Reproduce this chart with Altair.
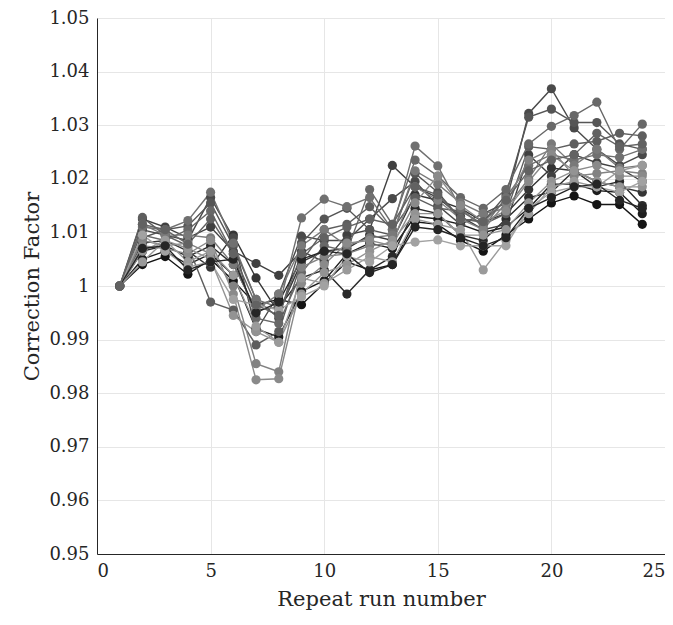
import altair as alt
import pandas as pd

runs = list(range(1, 25))

s01 = [1, 1.0040, 1.0055, 1.0022, 1.0050, 1.0010, 0.9965, 0.9975, 0.9965, 1.0005, 1.0045, 1.0030, 1.0040, 1.0120, 1.0115, 1.0085, 1.0065, 1.0095, 1.0125, 1.0155, 1.0168, 1.0152, 1.0152, 1.0115]
s02 = [1, 1.0050, 1.0065, 1.0040, 1.0060, 1.0020, 0.9920, 0.9905, 0.9990, 1.0010, 1.0060, 1.0080, 1.0070, 1.0130, 1.0125, 1.0115, 1.0100, 1.0110, 1.0145, 1.0190, 1.0190, 1.0178, 1.0175, 1.0135]
s03 = [1, 1.0065, 1.0075, 1.0055, 1.0075, 1.0040, 0.9955, 0.9960, 1.0015, 1.0030, 0.9985, 1.0030, 1.0055, 1.0145, 1.0135, 1.0095, 1.0085, 1.0125, 1.0165, 1.0175, 1.0215, 1.0185, 1.0195, 1.0150]
s04 = [1, 1.0080, 1.0085, 1.0065, 1.0035, 1.0095, 1.0015, 0.9950, 1.0045, 1.0065, 1.0070, 1.0095, 1.0085, 1.0170, 1.0160, 1.0145, 1.0120, 1.0135, 1.0180, 1.0220, 1.0215, 1.0195, 1.0185, 1.0175]
s05 = [1, 1.0125, 1.0110, 1.0090, 1.0110, 1.0065, 1.0042, 1.0020, 1.0065, 1.0045, 1.0095, 1.0105, 1.0225, 1.0185, 1.0165, 1.0130, 1.0105, 1.0115, 1.0245, 1.0205, 1.0245, 1.0230, 1.0220, 1.0195]
s06 = [1, 1.0105, 1.0095, 1.0085, 1.0165, 1.0090, 0.9915, 0.9985, 1.0093, 1.0085, 1.0085, 1.0125, 1.0163, 1.0195, 1.0150, 1.0115, 1.0135, 1.0155, 1.0322, 1.0368, 1.0295, 1.0255, 1.0225, 1.0245]
s07 = [1, 1.0090, 1.0105, 1.0112, 1.0155, 1.0075, 0.9975, 0.9940, 1.0080, 1.0125, 1.0145, 1.0105, 1.0095, 1.0210, 1.0175, 1.0125, 1.0120, 1.0170, 1.0315, 1.0330, 1.0305, 1.0305, 1.0265, 1.0255]
s08 = [1, 1.0128, 1.0095, 1.0075, 0.9970, 0.9955, 0.9890, 0.9915, 1.0045, 1.0105, 1.0115, 1.0148, 1.0105, 1.0165, 1.0145, 1.0140, 1.0115, 1.0135, 1.0260, 1.0255, 1.0265, 1.0270, 1.0285, 1.0280]
s09 = [1, 1.0095, 1.0085, 1.0105, 1.0140, 1.0060, 0.9940, 0.9930, 1.0025, 1.0075, 1.0065, 1.0180, 1.0115, 1.0235, 1.0205, 1.0165, 1.0145, 1.0180, 1.0265, 1.0298, 1.0318, 1.0343, 1.0255, 1.0302]
s10 = [1, 1.0110, 1.0105, 1.0122, 1.0175, 1.0080, 0.9975, 0.9960, 1.0127, 1.0162, 1.0148, 1.0165, 1.0105, 1.0261, 1.0224, 1.0145, 1.0110, 1.0165, 1.0225, 1.0245, 1.0235, 1.0245, 1.0240, 1.0255]
s11 = [1, 1.0115, 1.0095, 1.0095, 1.0090, 1.0040, 0.9955, 0.9985, 1.0075, 1.0105, 1.0075, 1.0090, 1.0095, 1.0215, 1.0190, 1.0155, 1.0135, 1.0145, 1.0200, 1.0265, 1.0225, 1.0255, 1.0220, 1.0225]
s12 = [1, 1.0085, 1.0075, 1.0080, 1.0060, 1.0000, 0.9855, 0.9840, 1.0035, 1.0055, 1.0060, 1.0075, 1.0080, 1.0185, 1.0160, 1.0125, 1.0105, 1.0155, 1.0235, 1.0255, 1.0205, 1.0210, 1.0215, 1.0210]
s13 = [1, 1.0075, 1.0070, 1.0060, 1.0085, 0.9985, 0.9825, 0.9827, 1.0005, 1.0040, 1.0080, 1.0085, 1.0075, 1.0155, 1.0205, 1.0150, 1.0120, 1.0140, 1.0195, 1.0245, 1.0215, 1.0225, 1.0205, 1.0205]
s14 = [1, 1.0065, 1.0085, 1.0070, 1.0050, 0.9945, 0.9915, 0.9895, 0.9985, 1.0025, 1.0040, 1.0065, 1.0085, 1.0135, 1.0135, 1.0095, 1.0095, 1.0105, 1.0155, 1.0195, 1.0215, 1.0195, 1.0185, 1.0185]
s15 = [1, 1.0045, 1.0085, 1.0045, 1.0065, 1.0020, 0.9925, 0.9895, 1.0015, 1.0005, 1.0030, 1.0055, 1.0045, 1.0125, 1.0115, 1.0105, 1.0030, 1.0085, 1.0135, 1.0185, 1.0195, 1.0185, 1.0215, 1.0225]
s16 = [1, 1.0095, 1.0065, 1.0035, 1.0045, 0.9975, 0.9965, 0.9955, 0.9980, 1.0000, 1.0055, 1.0045, 1.0075, 1.0082, 1.0086, 1.0075, 1.0075, 1.0075, 1.0145, 1.0175, 1.0185, 1.0185, 1.0175, 1.0195]
s17 = [1, 1.0070, 1.0075, 1.0030, 1.0045, 1.0050, 0.9950, 0.9970, 1.0050, 1.0065, 1.0060, 1.0025, 1.0040, 1.0110, 1.0105, 1.0090, 1.0075, 1.0090, 1.0145, 1.0165, 1.0185, 1.0190, 1.0160, 1.0145]
s18 = [1, 1.0115, 1.0105, 1.0078, 1.0125, 1.0060, 0.9965, 0.9945, 1.0060, 1.0090, 1.0110, 1.0125, 1.0115, 1.0185, 1.0170, 1.0125, 1.0120, 1.0160, 1.0215, 1.0235, 1.0245, 1.0285, 1.0260, 1.0265]

series = {
    "s01": s01, "s02": s02, "s03": s03, "s04": s04, "s05": s05, "s06": s06,
    "s07": s07, "s08": s08, "s09": s09, "s10": s10, "s11": s11, "s12": s12,
    "s13": s13, "s14": s14, "s15": s15, "s16": s16, "s17": s17, "s18": s18,
}
names = list(series.keys())
grays = ["#151515", "#1e1e1e", "#2a2a2a", "#353535", "#404040", "#4a4a4a",
         "#555555", "#5e5e5e", "#686868", "#707070", "#797979", "#828282",
         "#8a8a8a", "#939393", "#9a9a9a", "#a2a2a2", "#252525", "#626262"]

rows = []
for name, vals in series.items():
    for r, v in zip(runs, vals):
        rows.append({"run": r, "cf": v, "series": name})
df = pd.DataFrame(rows)

FONT = "DejaVu Serif"

chart = alt.Chart(df).mark_line(
    strokeWidth=1.4,
    point=alt.OverlayMarkDef(filled=True, size=85, opacity=1),
).encode(
    x=alt.X("run:Q", scale=alt.Scale(domain=[0, 25], nice=False),
            axis=alt.Axis(values=[0, 5, 10, 15, 20, 25], title="Repeat run number",
                          format="d", labelPadding=8, titlePadding=8)),
    y=alt.Y("cf:Q", scale=alt.Scale(domain=[0.95, 1.05], nice=False, zero=False),
            axis=alt.Axis(values=[0.95, 0.96, 0.97, 0.98, 0.99, 1.0, 1.01, 1.02, 1.03, 1.04, 1.05],
                          format=".2~f", title="Correction Factor",
                          labelPadding=8, titlePadding=6)),
    color=alt.Color("series:N", scale=alt.Scale(domain=names, range=grays), legend=None),
    detail="series:N",
).properties(
    width=568, height=536,
    autosize="none",
    padding={"left": 89, "top": 10, "right": 0, "bottom": 63},
).configure_axis(
    labelFont=FONT, titleFont=FONT, labelFontSize=18, titleFontSize=21,
    titleFontWeight="normal", labelColor="#262626", titleColor="#262626",
    domainColor="#262626", domainWidth=1, ticks=False,
    gridColor="#e6e6e6", gridWidth=1,
).configure_view(stroke=None)

chart.save("out.html", embed_options={"renderer": "svg", "actions": False})
